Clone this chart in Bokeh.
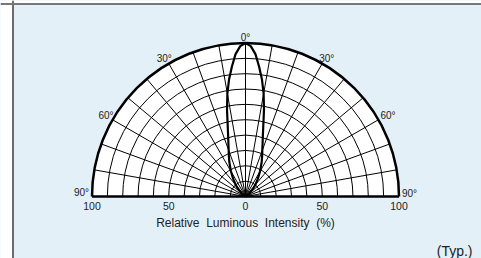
import numpy as np
from bokeh.plotting import figure
from bokeh.models import BoxAnnotation, Span, Label, ColumnDataSource
from bokeh.core.properties import value
from bokeh.embed import file_html
from bokeh.resources import INLINE

# ---- data ----
angles_deg = [0, 2, 4, 6, 8, 10, 12, 14, 16, 18, 20, 22, 25, 30, 35, 40, 45, 50, 60, 70, 90]
intensity = [100, 98, 93, 85, 77, 68, 58, 48, 41, 36, 32, 29, 25, 19, 14, 10, 6.5, 4, 1.5, 0.5, 0]
grid_radii = [10, 20, 30, 40, 50, 60, 70, 80, 90]
grid_angles = [-80, -70, -60, -50, -40, -30, -20, -10, 0, 10, 20, 30, 40, 50, 60, 70, 80]
deg_label_angles = [-90, -60, -30, 0, 30, 60, 90]
deg_labels = ["90°", "60°", "30°", "0°", "30°", "60°", "90°"]
tick_values = [-100, -50, 0, 50, 100]
tick_labels = ["100", "50", "0", "50", "100"]
axis_title = "Relative\u00a0 Luminous\u00a0 Intensity\u00a0 (%)"
note = "(Typ.)"

# ---- layout ----
W, H = 481, 258
PX = 1.535           # pixels per percent of radius
CX, CY = 245, 196    # centre in figure pixels (from left, from top)
BG = "#e4f0f7"
FONT = "Liberation Sans"
TXT = "#222222"

x0 = -CX / PX
x1 = (W - CX) / PX
y0 = -(H - CY) / PX
y1 = CY / PX

p = figure(width=W, height=H, x_range=(x0, x1), y_range=(y0, y1),
           output_backend="svg", toolbar_location=None, min_border=0,
           background_fill_color=BG, border_fill_color=BG)
p.axis.visible = False
p.grid.visible = False
p.outline_line_color = None

# frame
p.add_layout(BoxAnnotation(right=x0 + 12 / PX, fill_color="white", fill_alpha=1, line_color=None))
p.add_layout(BoxAnnotation(bottom=y1 - 3 / PX, fill_color="white", fill_alpha=1, line_color=None))
p.add_layout(Span(location=x0 + 12.5 / PX, dimension="height", line_color="#222222", line_width=1.3))
p.add_layout(Span(location=y1 - 3.5 / PX, dimension="width", line_color="#777777", line_width=2))

# white semicircle
p.wedge(x=[0], y=[0], radius=100, start_angle=0, end_angle=np.pi,
        fill_color="white", line_color=None)

# grid circles
n = len(grid_radii)
p.arc(x=[0] * n, y=[0] * n, radius=grid_radii, start_angle=0, end_angle=np.pi,
      line_color="black", line_width=1)

# radial lines
ga = np.radians(grid_angles)
p.segment(x0=[0] * len(ga), y0=[0] * len(ga), x1=100 * np.sin(ga), y1=100 * np.cos(ga),
          line_color="black", line_width=1)

# outer arc and base line
p.arc(x=[0], y=[0], radius=100, start_angle=0, end_angle=np.pi,
      line_color="black", line_width=2.5)
p.segment(x0=[-100], y0=[0], x1=[100], y1=[0], line_color="black", line_width=2.5)

# radiation pattern (symmetric)
a = np.radians(angles_deg)
r = np.array(intensity, dtype=float)
xs = np.concatenate([-(r * np.sin(a))[::-1], (r * np.sin(a))[1:]])
ys = np.concatenate([(r * np.cos(a))[::-1], (r * np.cos(a))[1:]])
p.line(xs, ys, line_color="black", line_width=2.2)

# degree labels
la = np.radians(deg_label_angles)
lx = 100 * np.sin(la)
ly = 100 * np.cos(la)
aligns = ["right", "right", "right", "center", "left", "left", "left"]
xoffs = [-3, 1, 3, 0, -3, 2, 3]
yoffs = [-4, -4, -5, -6, -5, -4, -3]
src = ColumnDataSource(dict(x=lx, y=ly, t=deg_labels, al=aligns, xo=xoffs, yo=yoffs))
p.text(x="x", y="y", text="t", source=src, text_align="al", x_offset="xo", y_offset="yo",
       text_baseline="middle", text_font=value(FONT), text_font_size="10px", text_color=TXT)

# radial scale labels
p.text(x=tick_values, y=[0] * len(tick_values), text=tick_labels, y_offset=9,
       text_align="center", text_baseline="middle", text_font=value(FONT),
       text_font_size="10.5px", text_color=TXT)

# axis title
p.text(x=[0], y=[0], text=[axis_title], y_offset=26, text_align="center",
       text_baseline="middle", text_font=value(FONT), text_font_size="12px", text_color=TXT)

# note
p.add_layout(Label(x=x1 - 9 / PX, y=y0 + 8 / PX, text=note, text_align="right",
                   text_baseline="middle", text_font=FONT, text_font_size="14px",
                   text_color=TXT))

open("out.html", "w").write(file_html(p, INLINE))
